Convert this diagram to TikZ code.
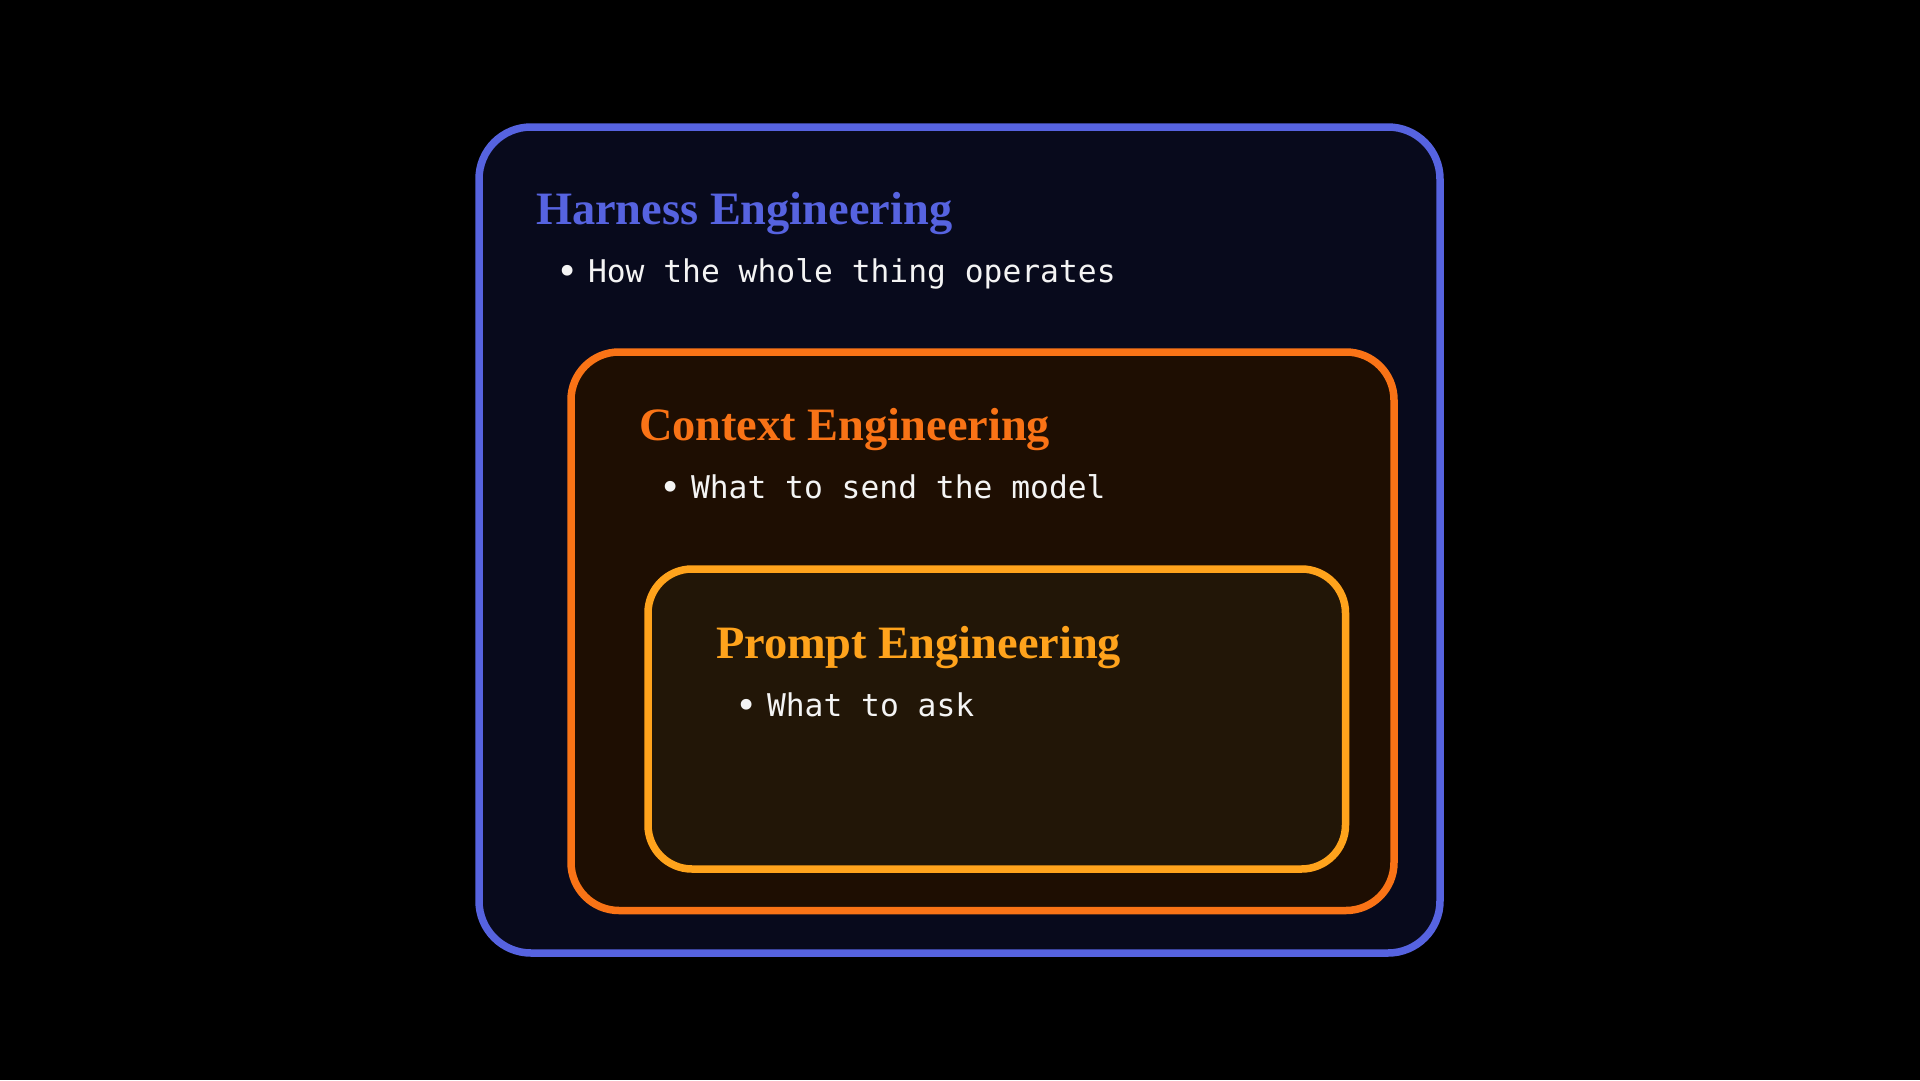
\documentclass[tikz,border=0pt]{standalone}
\usepackage{fontspec}
\setmainfont{Liberation Serif}
\setmonofont{DejaVu Sans Mono}
\definecolor{hblue}{HTML}{5663E0}
\definecolor{hfill}{HTML}{080A1C}
\definecolor{corange}{HTML}{F97316}
\definecolor{cfill}{HTML}{1E0E02}
\definecolor{pamber}{HTML}{FFA31C}
\definecolor{pfill}{HTML}{221607}
\definecolor{btext}{HTML}{F4F4F4}
\newcommand{\mybul}{\makebox[32pt][l]{\raisebox{-2.5pt}{\fontsize{37}{37}\selectfont •}}}
\tikzset{
  layerbox/.style={draw, line width=7.5pt, inner sep=0pt, outer sep=0pt},
  titletext/.style={anchor=base west, inner sep=0pt, outer sep=0pt, font=\fontsize{46.4}{52}\selectfont\bfseries},
  bullettext/.style={anchor=base west, inner sep=0pt, outer sep=0pt, text=btext, font=\fontsize{31.3}{36}\selectfont\ttfamily}
}
\begin{document}
\begin{tikzpicture}[x=1pt,y=-1pt]
\useasboundingbox (0,0) rectangle (1920,1080);
\fill[black] (0,0) rectangle (1920,1080);
% nested layers
\node[layerbox, draw=hblue, fill=hfill, rounded corners=52pt, minimum width=961pt, minimum height=826pt] (harness) at (959.5,540) {};
\node[layerbox, draw=corange, fill=cfill, rounded corners=48pt, minimum width=823pt, minimum height=558.5pt] (context) at (982.5,631.25) {};
\node[layerbox, draw=pamber, fill=pfill, rounded corners=44pt, minimum width=697.5pt, minimum height=300pt] (prompt) at (996.75,719) {};
\node[titletext, text=hblue] (htitle) at (536,224) {Harness Engineering};
\node[bullettext] (hbullet) at (556,282) {\mybul How the whole thing operates};
\node[titletext, text=corange] (ctitle) at (639,440) {Context Engineering};
\node[bullettext] (cbullet) at (659,498) {\mybul What to send the model};
\node[titletext, text=pamber] (ptitle) at (716,658) {Prompt Engineering};
\node[bullettext] (pbullet) at (735,716) {\mybul What to ask};
\end{tikzpicture}
\end{document}
